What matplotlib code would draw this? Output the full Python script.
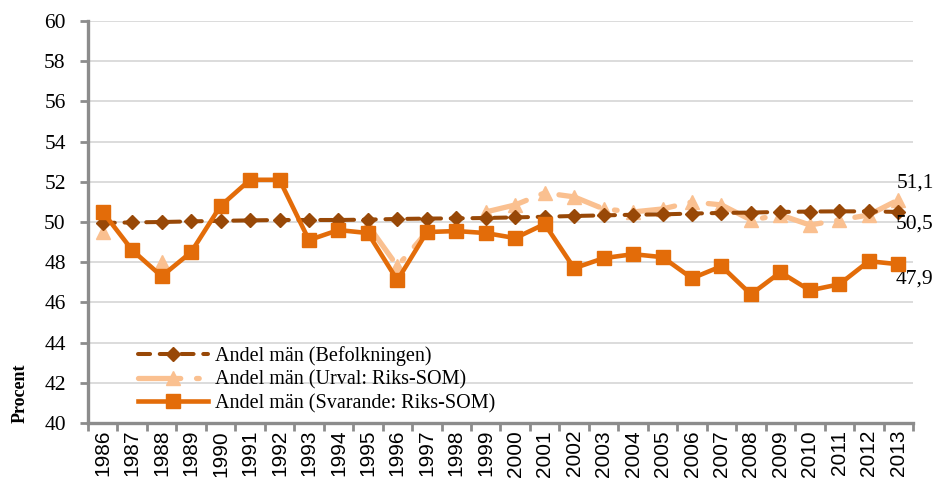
import matplotlib.pyplot as plt
import numpy as np

# Data
years = [str(y) for y in range(1986, 2014)]

befolkningen = [49.95, 49.98, 50.0, 50.03, 50.06, 50.08, 50.1, 50.1, 50.1, 50.12,
                50.15, 50.17, 50.18, 50.2, 50.23, 50.26, 50.3, 50.33, 50.36, 50.38,
                50.42, 50.45, 50.47, 50.5, 50.52, 50.53, 50.53, 50.5]

# nan = no value shown for that year
nan = float('nan')
urval = [49.5, nan, 48.0, nan, nan, nan, nan, nan, nan, 49.85,
         47.8, 49.5, nan, 50.5, 50.85, 51.45, 51.25, 50.65, 50.5, 50.65,
         51.0, 50.85, 50.1, 50.35, 49.85, 50.1, 50.35, 51.1]

svarande = [50.5, 48.6, 47.3, 48.5, 50.8, 52.1, 52.1, 49.1, 49.6, 49.45,
            47.1, 49.5, 49.55, 49.45, 49.2, 49.9, 47.7, 48.2, 48.4, 48.25,
            47.2, 47.8, 46.4, 47.5, 46.6, 46.9, 48.05, 47.9]

end_labels = ['51,1', '50,5', '47,9']

serif = 'Liberation Serif'
sans = 'Liberation Sans'

fig = plt.figure(figsize=(9.37, 4.8), dpi=100)
ax = fig.add_axes([88 / 937, 1 - 423 / 480, (913 - 88) / 937, (423 - 21) / 480])

x = np.arange(len(years))

ax.plot(x, befolkningen, color='#984807', lw=2.9, dashes=[3, 2.4],
        dash_capstyle='round', marker='D', markersize=7.5,
        label='Andel män (Befolkningen)', zorder=3)
ax.plot(x, urval, color='#FAC090', lw=3.8, dashes=[8, 3, 0.5, 3],
        dash_capstyle='round', marker='^', markersize=10,
        label='Andel män (Urval: Riks-SOM)', zorder=2)
ax.plot(x, svarande, color='#E36C09', lw=3.3, marker='s', markersize=10,
        label='Andel män (Svarande: Riks-SOM)', zorder=4)

# data labels at the last year
ax.annotate(end_labels[0], (x[-1], urval[-1]), xytext=(12, 12), textcoords='offset points',
            ha='center', va='center', fontsize=15.5, family=serif, annotation_clip=False)
ax.annotate(end_labels[1], (x[-1], befolkningen[-1]), xytext=(12, -9), textcoords='offset points',
            ha='center', va='center', fontsize=15.5, family=serif, annotation_clip=False)
ax.annotate(end_labels[2], (x[-1], svarande[-1]), xytext=(12, -11), textcoords='offset points',
            ha='center', va='center', fontsize=15.5, family=serif, annotation_clip=False)

ax.set_xlim(-0.5, len(years) - 0.5)
ax.set_ylim(40, 60)
ax.set_yticks(np.arange(40, 61, 2))
ax.set_xticks(x)
ax.set_xticklabels(years, rotation=90, fontsize=15, family=sans)
ax.set_xticks(np.arange(-0.5, len(years), 1), minor=True)
ax.tick_params(axis='x', which='major', length=0, pad=5)
ax.tick_params(axis='x', which='minor', length=6, width=2, color='#8C8C8C', direction='out')
ax.tick_params(axis='y', length=6, width=2, color='#8C8C8C', direction='out', pad=10)
for lab in ax.get_yticklabels():
    lab.set_fontfamily(serif)
    lab.set_fontsize(15.5)

ax.grid(axis='y', color='#D9D9D9', lw=1.3)
ax.set_axisbelow(True)
for s in ['top', 'right']:
    ax.spines[s].set_visible(False)
for s in ['left', 'bottom']:
    ax.spines[s].set_color('#8C8C8C')
    ax.spines[s].set_linewidth(2.4)

fig.text(20 / 937, 1 - 393 / 480, 'Procent', rotation=90, ha='center', va='center',
         fontsize=13, fontweight='bold', family=serif)

ax.legend(loc='upper left', bbox_to_anchor=(138 / 937, 1 - 346 / 480),
          bbox_transform=fig.transFigure, frameon=False, borderpad=0,
          borderaxespad=0, handlelength=3.5, handletextpad=0.3, labelspacing=0.22,
          prop={'family': serif, 'size': 14.5})

fig.savefig('out.png', dpi=100)
